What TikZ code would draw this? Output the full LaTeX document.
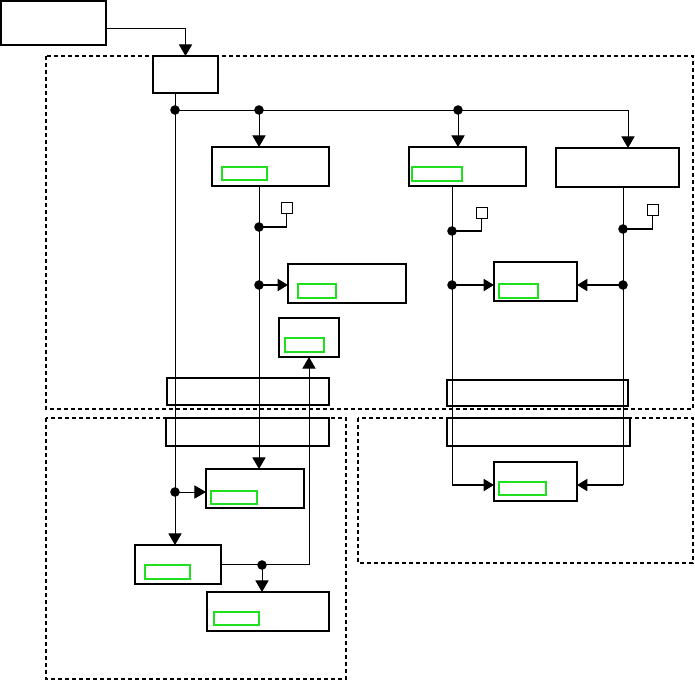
\documentclass[tikz,border=0pt]{standalone}
\usetikzlibrary{arrows.meta,calc}
\definecolor{MarkClr}{rgb}{0.12,0.88,0.12}

\begin{document}
\begin{tikzpicture}[x=0.25mm,y=-0.25mm,
  box/.style={draw,line width=0.8pt,inner sep=0pt,outer sep=0pt,minimum height=9.75mm},
  greenbox/.style={draw=MarkClr,line width=1.3pt,inner sep=0pt,outer sep=0pt,minimum height=3.4mm},
  smallbox/.style={draw,line width=0.6pt,inner sep=0pt,outer sep=0pt,minimum size=2.75mm},
  zone/.style={line width=1.2pt,dash pattern=on 1mm off 0.75mm},
  link/.style={line width=0.7pt},
  thicklink/.style={line width=1.2pt},
  arr/.style={link,-{Triangle[length=2.9mm,width=3.3mm]}},
  fatarr/.style={line width=1.5pt,-{Triangle[length=2.6mm,width=3mm]}}]

\useasboundingbox (0,0) rectangle (695,681);

\draw[zone] (46,56) rectangle (693,409);
\draw[zone] (46,418) rectangle (346,679);
\draw[zone] (358,418) rectangle (693,563);

\node[box,minimum width=26.25mm,minimum height=11mm] (top) at (53.5,23) {};
\node[box,minimum width=16.25mm,minimum height=9.25mm] (src) at (185.5,74.5) {};
\node[box,minimum width=29.25mm] (A) at (270.5,166.5) {};
\node[box,minimum width=29.25mm] (B) at (467.5,166.5) {};
\node[box,minimum width=30.75mm] (C) at (617.5,167.5) {};
\node[box,minimum width=29.5mm] (D) at (347,283.5) {};
\node[box,minimum width=15mm] (E) at (309,337.5) {};
\node[box,minimum width=20.75mm] (I) at (535.5,281.5) {};
\node[box,minimum width=20.75mm] (J) at (535.5,481.5) {};
\node[box,minimum width=24.5mm] (F) at (255,488.5) {};
\node[box,minimum width=21.5mm] (G) at (178,564.5) {};
\node[box,minimum width=30.5mm] (H) at (268,611.5) {};

\node[box,minimum width=40.5mm,minimum height=6.75mm] (barL1) at (248,391.5) {};
\node[box,minimum width=40.75mm,minimum height=7mm] (barL2) at (247.5,432) {};
\node[box,line width=1.2pt,minimum width=45.25mm,minimum height=6.5mm] (barR1) at (537.5,393) {};
\node[box,minimum width=45.75mm,minimum height=7mm] (barR2) at (538.5,432) {};

\node[greenbox,minimum width=11.25mm] (gA) at (244.5,173.5) {};
\node[greenbox,minimum width=12.5mm] (gB) at (437,174) {};
\node[greenbox,minimum width=9.5mm] (gD) at (317,291) {};
\node[greenbox,minimum width=9.75mm] (gE) at (304.5,345) {};
\node[greenbox,minimum width=9.75mm] (gI) at (518.5,291) {};
\node[greenbox,minimum width=11.75mm] (gJ) at (522.5,488.5) {};
\node[greenbox,minimum width=11.5mm] (gF) at (234,497.5) {};
\node[greenbox,minimum width=11.25mm] (gG) at (167.5,572) {};
\node[greenbox,minimum width=11.25mm] (gH) at (236.5,618.5) {};

\node[smallbox] (s1) at (286.5,207.5) {};
\node[smallbox] (s2) at (481.5,212.5) {};
\node[smallbox] (s3) at (652.5,209.5) {};

\coordinate (t0) at (106,28);
\coordinate (d0) at (175,110);
\coordinate (d1) at (259,110);
\coordinate (d2) at (458,110);
\coordinate (c3) at (628,110);
\coordinate (e1) at (259,227);
\coordinate (e2) at (259,285);
\coordinate (b1) at (452,231);
\coordinate (b2) at (452,285);
\coordinate (b3) at (452,485);
\coordinate (k1) at (623,229);
\coordinate (k2) at (623,285);
\coordinate (k3) at (623,485);
\coordinate (f1) at (175,492);
\coordinate (h1) at (262,565);

\draw[arr] (t0) -| (src.north);
\draw[link] (src.south -| d0) -- (d0);
\draw[arr] (d0) -- (d0 |- G.north);
\draw[link] (d0) -- (c3);
\draw[arr] (c3) -- (c3 |- C.north);
\draw[arr] (d1) -- (d1 |- A.north);
\draw[arr] (d2) -- (d2 |- B.north);

\draw[arr] (A.south -| d1) -- (d1 |- F.north);
\draw[thicklink] (e1) -| (s1.south);
\draw[fatarr] (e2) -- (e2 -| D.west);

\draw[link] (B.south -| b1) -- (b3);
\draw[thicklink] (b1) -| (s2.south);
\draw[fatarr] (b2) -- (b2 -| I.west);
\draw[fatarr] (b3) -- (b3 -| J.west);

\draw[link] (C.south -| k1) -- (k3);
\draw[thicklink] (k1) -| (s3.south);
\draw[fatarr] (k2) -- (k2 -| I.east);
\draw[fatarr] (k3) -- (k3 -| J.east);

\draw[arr] (f1) -- (f1 -| F.west);
\draw[arr] (G.east) -| (E.south);
\draw[arr] (h1) -- (h1 |- H.north);

\foreach \p in {d0,d1,d2,e1,e2,b1,b2,k1,k2,f1,h1}
  \fill (\p) circle[radius=3.4pt];

\end{tikzpicture}
\end{document}
